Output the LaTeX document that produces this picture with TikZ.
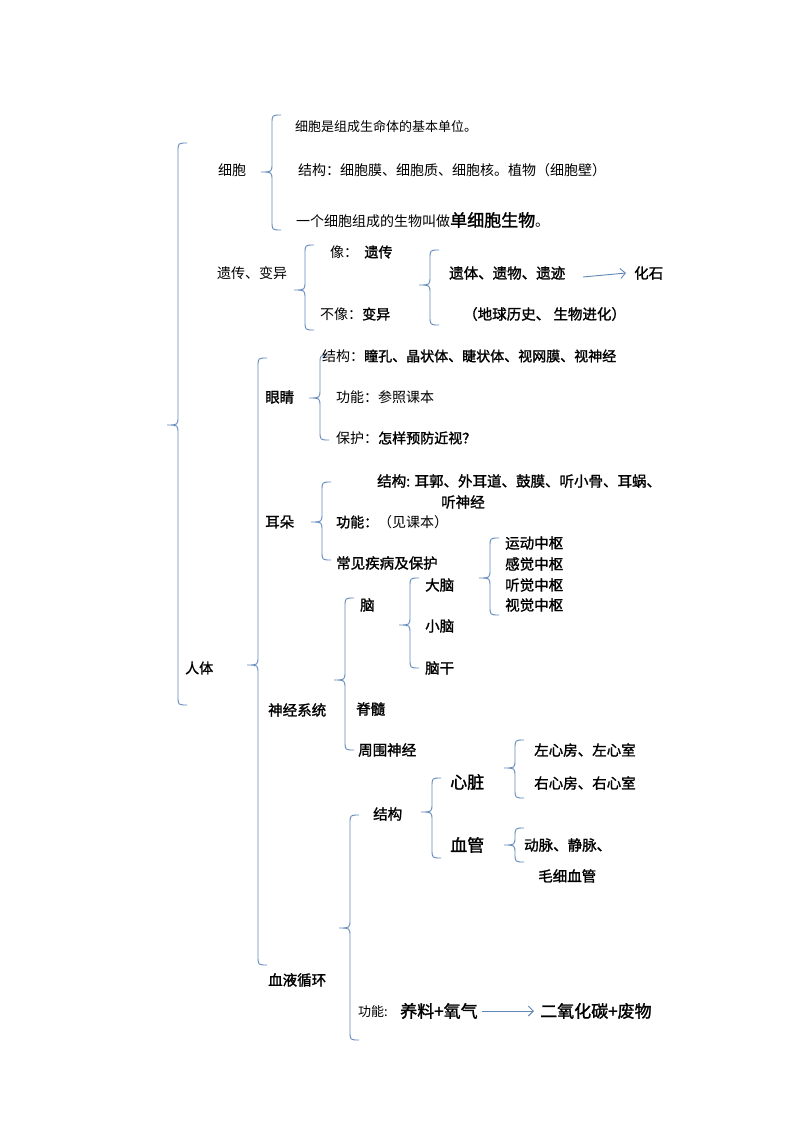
\documentclass[tikz,border=0pt]{standalone}
\usetikzlibrary{arrows.meta}
\usepackage{fontspec}
\setmainfont{Noto Sans CJK SC}[AutoFakeBold=1.5]
\definecolor{bc}{RGB}{95,135,185}
\newcommand\brc[4]{% x top mid bot
\draw[bc,line width=0.9pt] ({#1+9},#2) .. controls (#1,#2) .. (#1,{#2+9}) -- (#1,{#3-9}) .. controls (#1,#3) .. ({#1-11},#3)
 .. controls (#1,#3) .. (#1,{#3+9}) -- (#1,{#4-9}) .. controls (#1,#4) .. ({#1+9},#4);}
\begin{document}
\begin{tikzpicture}[x=1pt,y=-1pt,
 t/.style={anchor=west,inner sep=0pt,font=\fontsize{14}{14}\selectfont},
 s/.style={anchor=west,inner sep=0pt,font=\fontsize{13}{13}\selectfont},
 b/.style={t,font=\fontsize{14.5}{14.5}\selectfont\bfseries},
 bb/.style={t,font=\fontsize{17}{17}\selectfont\bfseries},
 arr/.style={bc,line width=0.9pt,-{Straight Barb[length=5pt]}}]
\useasboundingbox (0,0) rectangle (794,1123);
\brc{178}{143}{425}{705}
\brc{272}{115}{172}{230}
\brc{305}{245}{290}{330}
\brc{430}{250}{285}{325}
\brc{258}{358}{665}{965}
\brc{320}{355}{398}{440}
\brc{322}{482}{522}{560}
\brc{490}{538}{578}{615}
\brc{410}{578}{625}{668}
\brc{345}{598}{680}{750}
\brc{515}{740}{768}{798}
\brc{515}{828}{845}{862}
\brc{432}{778}{812}{858}
\brc{350}{815}{928}{1040}
\node[t] (xb) at (218,170) {细胞};
\node[s] (a1) at (295,127) {细胞是组成生命体的基本单位。};
\node[t] (a2) at (298,170) {结构：细胞膜、细胞质、细胞核。植物（细胞壁）};
\node[t] (a3) at (296,220) {一个细胞组成的生物叫做{\fontsize{17}{17}\selectfont\bfseries 单细胞生物}。};
\node[t] (yc) at (217,273) {遗传、变异};
\node[t] (x1) at (330,252) {像：\ \ \textbf{遗传}};
\node[t] (x2) at (320,314) {不像：\textbf{变异}};
\node[b] (yt) at (449,273) {遗体、遗物、遗迹};
\node[b] (hs) at (634,273) {化石};
\draw[arr] (583,277) -- ([xshift=-8pt]hs.west);
\node[b] (dq) at (463,314) {（地球历史、\ 生物进化）};
\node[t] (rt) at (185,668) {\textbf{人体}};
\node[b] (yj) at (265,397) {眼睛};
\node[t] (e1) at (322,356) {结构：\textbf{瞳孔、晶状体、睫状体、视网膜、视神经}};
\node[t] (e2) at (336,397) {功能：参照课本};
\node[t] (e3) at (336,438) {保护：\textbf{怎样预防近视？}};
\node[b] (ed) at (265,522) {耳朵};
\node[b] (r1) at (377,481) {结构: 耳郭、外耳道、鼓膜、听小骨、耳蜗、};
\node[b] (r2) at (441,502) {听神经};
\node[t] (r3) at (336,522) {\textbf{功能：}（见课本）};
\node[b] (r4) at (336,563) {常见疾病及保护};
\node[b] (z1) at (505,543) {运动中枢};
\node[b] (z2) at (505,564) {感觉中枢};
\node[b] (z3) at (505,585) {听觉中枢};
\node[b] (z4) at (505,605) {视觉中枢};
\node[b] (dn) at (425,585) {大脑};
\node[b] (xn) at (425,626) {小脑};
\node[b] (ng) at (425,668) {脑干};
\node[b] (n) at (360,605) {脑};
\node[b] (sj) at (268,710) {神经系统};
\node[b] (jz) at (356,709) {脊髓};
\node[b] (zw) at (358,750) {周围神经};
\node[b] (h1) at (534,750) {左心房、左心室};
\node[b] (h2) at (534,783) {右心房、右心室};
\node[bb] (xz) at (450,782) {心脏};
\node[bb] (xg) at (450,845) {血管};
\node[b] (jg) at (373,814) {结构};
\node[b] (g1) at (524,845) {动脉、静脉、};
\node[b] (g2) at (538,876) {毛细血管};
\node[b] (xy) at (268,980) {血液循环};
\node[s] (gn) at (358,1012) {功能:};
\node[bb] (yl) at (400,1011) {养料+氧气};
\node[bb] (ey) at (540,1011) {二氧化碳+废物};
\draw[arr] ([xshift=4pt]yl.east) -- ([xshift=-6pt]ey.west);
\end{tikzpicture}
\end{document}
